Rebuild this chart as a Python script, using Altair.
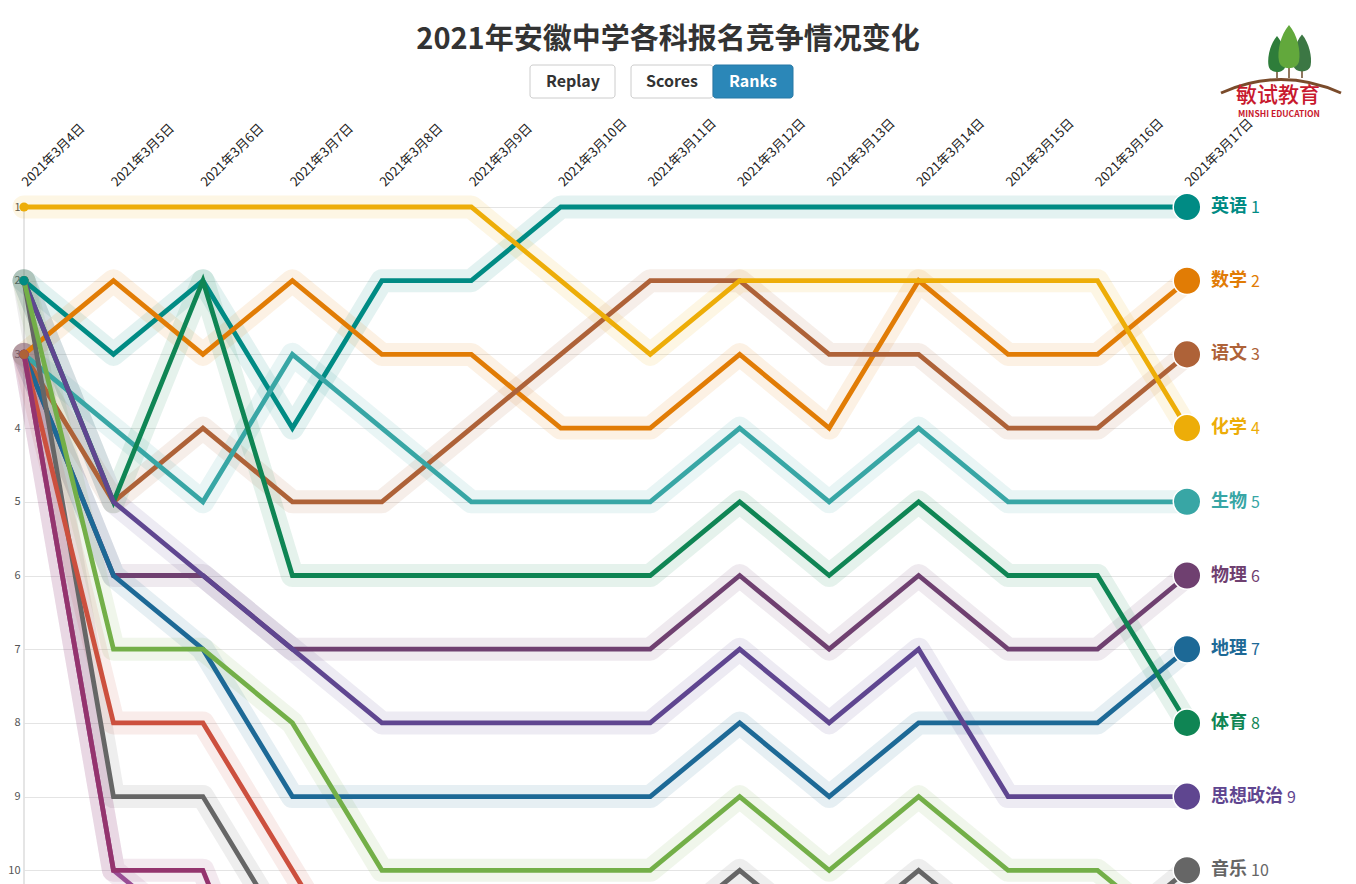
import altair as alt
import pandas as pd

FONT = "Noto Sans CJK SC"

dates = ["2021年3月4日", "2021年3月5日", "2021年3月6日", "2021年3月7日", "2021年3月8日",
         "2021年3月9日", "2021年3月10日", "2021年3月11日", "2021年3月12日", "2021年3月13日",
         "2021年3月14日", "2021年3月15日", "2021年3月16日", "2021年3月17日"]

subjects = ["英语", "数学", "语文", "化学", "生物", "物理", "地理", "体育", "思想政治",
            "音乐", "历史", "美术", "信息技术", "通用技术"]
colors = ["#008b84", "#e17c05", "#ae6238", "#edad08", "#38a6a5", "#6f4070", "#1d6996",
          "#0f8554", "#5f4690", "#666666", "#73af48", "#cc503e", "#994e95", "#94346e"]

rank_英语 = [2, 3, 2, 4, 2, 2, 1, 1, 1, 1, 1, 1, 1, 1]
rank_数学 = [3, 2, 3, 2, 3, 3, 4, 4, 3, 4, 2, 3, 3, 2]
rank_语文 = [3, 5, 4, 5, 5, 4, 3, 2, 2, 3, 3, 4, 4, 3]
rank_化学 = [1, 1, 1, 1, 1, 1, 2, 3, 2, 2, 2, 2, 2, 4]
rank_生物 = [3, 4, 5, 3, 4, 5, 5, 5, 4, 5, 4, 5, 5, 5]
rank_物理 = [3, 6, 6, 7, 7, 7, 7, 7, 6, 7, 6, 7, 7, 6]
rank_地理 = [3, 6, 7, 9, 9, 9, 9, 9, 8, 9, 8, 8, 8, 7]
rank_体育 = [2, 5, 2, 6, 6, 6, 6, 6, 5, 6, 5, 6, 6, 8]
rank_思想政治 = [2, 5, 6, 7, 8, 8, 8, 8, 7, 8, 7, 9, 9, 9]
rank_音乐 = [2, 9, 9, 11, 11, 11, 11, 11, 10, 11, 10, 11, 11, 10]
rank_历史 = [2, 7, 7, 8, 10, 10, 10, 10, 9, 10, 9, 10, 10, 11]
rank_美术 = [3, 8, 8, 10, 12, 12, 12, 12, 12, 12, 12, 12, 12, 12]
rank_信息技术 = [3, 10, 11, 12, 13, 13, 14, 14, 14, 13, 14, 13, 13, 13]
rank_通用技术 = [3, 10, 10, 13, 14, 14, 13, 13, 13, 14, 13, 14, 14, 14]

series = [rank_英语, rank_数学, rank_语文, rank_化学, rank_生物, rank_物理, rank_地理,
          rank_体育, rank_思想政治, rank_音乐, rank_历史, rank_美术, rank_信息技术, rank_通用技术]

rows = []
for s, vals in zip(subjects, series):
    for d, r in zip(dates, vals):
        rows.append({"subject": s, "date": d, "rank": r})
df = pd.DataFrame(rows)

# start dots: draw 英语 and 语文 last so they sit on top of their tied groups
first_df = df[df["date"] == dates[0]].copy()
first_df["z"] = first_df["subject"].map(lambda s: 2 if s in ("英语", "语文") else 1)
first_df = first_df.sort_values("z", kind="stable")
last_df = df[df["date"] == dates[-1]].copy()
last_df["nlen"] = last_df["subject"].str.len()

W = 1163
STEP = 73.7
TOP_OFF = 17
D0 = 1 - TOP_OFF / STEP
H = 1012
D1 = D0 + H / STEP

xenc = alt.X("date:N", sort=dates,
             scale=alt.Scale(type="point", padding=0, domain=dates),
             axis=alt.Axis(orient="top", labelAngle=-45, labelAlign="left",
                           labelBaseline="middle", labelPadding=6, ticks=False,
                           tickSize=0, domain=False, grid=False, labelFontSize=13,
                           labelColor="#222", labelFont=FONT, labelOverlap=False,
                           title=None))
yenc = alt.Y("rank:Q",
             scale=alt.Scale(domain=[D0, D1], reverse=True, nice=False, zero=False),
             axis=alt.Axis(values=list(range(1, 15)), grid=True, gridColor="#e4e4e4",
                           gridWidth=1, domain=False, ticks=False, tickSize=0,
                           labelPadding=4, labelFontSize=11, labelColor="#555",
                           labelFont=FONT, title=None))
cenc = alt.Color("subject:N", scale=alt.Scale(domain=subjects, range=colors), legend=None)

base = alt.Chart(df)

vrule = alt.Chart(pd.DataFrame({"k": [0]})).mark_rule(color="#dddddd", strokeWidth=1.5).encode(
    x=alt.value(0), y=alt.value(TOP_OFF), y2=alt.value(H))

halo = base.mark_line(strokeWidth=23, opacity=0.11, strokeCap="round", strokeJoin="round").encode(
    x=xenc, y=yenc, color=cenc, detail="subject:N")
lines = base.mark_line(strokeWidth=4.8, strokeJoin="miter").encode(
    x=xenc, y=yenc, color=cenc, detail="subject:N")

start = alt.Chart(first_df).mark_circle(size=85, opacity=1).encode(x=xenc, y=yenc, color=cenc)
end = alt.Chart(last_df).mark_circle(size=760, opacity=1, stroke="white", strokeWidth=1.5).encode(
    x=xenc, y=yenc, color=cenc)
names = alt.Chart(last_df).mark_text(align="left", baseline="middle", dx=24, fontSize=18,
                                     fontWeight="bold", font=FONT).encode(
    x=xenc, y=yenc, color=cenc, text="subject:N")
num2 = alt.Chart(last_df).transform_filter("datum.nlen == 2").mark_text(
    align="left", baseline="middle", dx=64, dy=1, fontSize=16, font=FONT).encode(
    x=xenc, y=yenc, color=cenc, text="rank:Q")
num4 = alt.Chart(last_df).transform_filter("datum.nlen == 4").mark_text(
    align="left", baseline="middle", dx=100, dy=1, fontSize=16, font=FONT).encode(
    x=xenc, y=yenc, color=cenc, text="rank:Q")

one = pd.DataFrame({"k": [0]})
OX, OY = 24, 190  # page position of plot origin


def px(x):
    return alt.value(x - OX)


def py(y):
    return alt.value(y - OY)


title = alt.Chart(one).mark_text(text="2021年安徽中学各科报名竞争情况变化", font=FONT, fontSize=29,
                                 fontWeight="bold", color="#333333", align="center",
                                 baseline="middle").encode(x=px(668), y=py(40))

btn_replay = alt.Chart(one).mark_rect(fill="white", stroke="#cccccc", strokeWidth=1,
                                      cornerRadius=3).encode(
    x=px(530), x2=px(615), y=py(65), y2=py(98))
btn_scores = alt.Chart(one).mark_rect(fill="white", stroke="#cccccc", strokeWidth=1,
                                      cornerRadius=3).encode(
    x=px(631), x2=px(713), y=py(65), y2=py(98))
btn_ranks = alt.Chart(one).mark_rect(fill="#2b87b8", stroke="#2679a6", strokeWidth=1,
                                     cornerRadius=3).encode(
    x=px(713), x2=px(793), y=py(65), y2=py(98))
t_replay = alt.Chart(one).mark_text(text="Replay", font=FONT, fontSize=16, fontWeight="bold",
                                    color="#333333", align="center", baseline="middle").encode(
    x=px(573), y=py(82))
t_scores = alt.Chart(one).mark_text(text="Scores", font=FONT, fontSize=16, fontWeight="bold",
                                    color="#333333", align="center", baseline="middle").encode(
    x=px(672), y=py(82))
t_ranks = alt.Chart(one).mark_text(text="Ranks", font=FONT, fontSize=16, fontWeight="bold",
                                   color="white", align="center", baseline="middle").encode(
    x=px(753), y=py(82))

TREE = "M0,-1 C0.35,-0.6 0.5,0.1 0.42,0.5 C0.35,0.9 -0.35,0.9 -0.42,0.5 C-0.5,0.1 -0.35,-0.6 0,-1 Z"
trunk_l = alt.Chart(one).mark_rule(color="#6b4a2a", strokeWidth=1.5).encode(
    x=px(1277), y=py(62), y2=py(78))
trunk_m = alt.Chart(one).mark_rule(color="#6b4a2a", strokeWidth=1.5).encode(
    x=px(1289), y=py(58), y2=py(78))
trunk_r = alt.Chart(one).mark_rule(color="#6b4a2a", strokeWidth=1.5).encode(
    x=px(1302), y=py(62), y2=py(78))
tree_l = alt.Chart(one).mark_point(shape=TREE, filled=True, opacity=1, size=1600,
                                   color="#2e7d3a").encode(x=px(1277), y=py(56))
tree_r = alt.Chart(one).mark_point(shape=TREE, filled=True, opacity=1, size=1700,
                                   color="#3c7744").encode(x=px(1302), y=py(55))
tree_m = alt.Chart(one).mark_point(shape=TREE, filled=True, opacity=1, size=2300,
                                   color="#62a83c").encode(x=px(1289), y=py(49))
arc = alt.Chart(one).mark_point(shape="M-1,0.2 Q0,-0.25 1,0.2", filled=False, opacity=1,
                                size=14400, stroke="#7a4b2b", strokeWidth=3).encode(
    x=px(1281), y=py(81))
logo_cn = alt.Chart(one).mark_text(text="敏试教育", font=FONT, fontSize=21, fontWeight=500,
                                   color="#c8192e", align="center", baseline="middle").encode(
    x=px(1278), y=py(96))
logo_en = alt.Chart(one).mark_text(text="MINSHI EDUCATION", font=FONT, fontSize=8.5,
                                   fontWeight="bold", color="#c8192e", align="center",
                                   baseline="middle").encode(x=px(1279), y=py(114))

chart = alt.layer(
    vrule, halo, lines, start, end, names, num2, num4,
    title, btn_replay, btn_scores, btn_ranks, t_replay, t_scores, t_ranks,
    trunk_l, trunk_m, trunk_r, tree_l, tree_r, tree_m, arc, logo_cn, logo_en
).properties(
    width=W, height=H,
    padding={"left": 16, "top": 182, "right": 161, "bottom": 20},
    autosize=alt.AutoSizeParams(type="none"),
    background="white",
).configure_view(strokeWidth=0)

chart.save("out.html", embed_options={"renderer": "svg", "actions": False})
